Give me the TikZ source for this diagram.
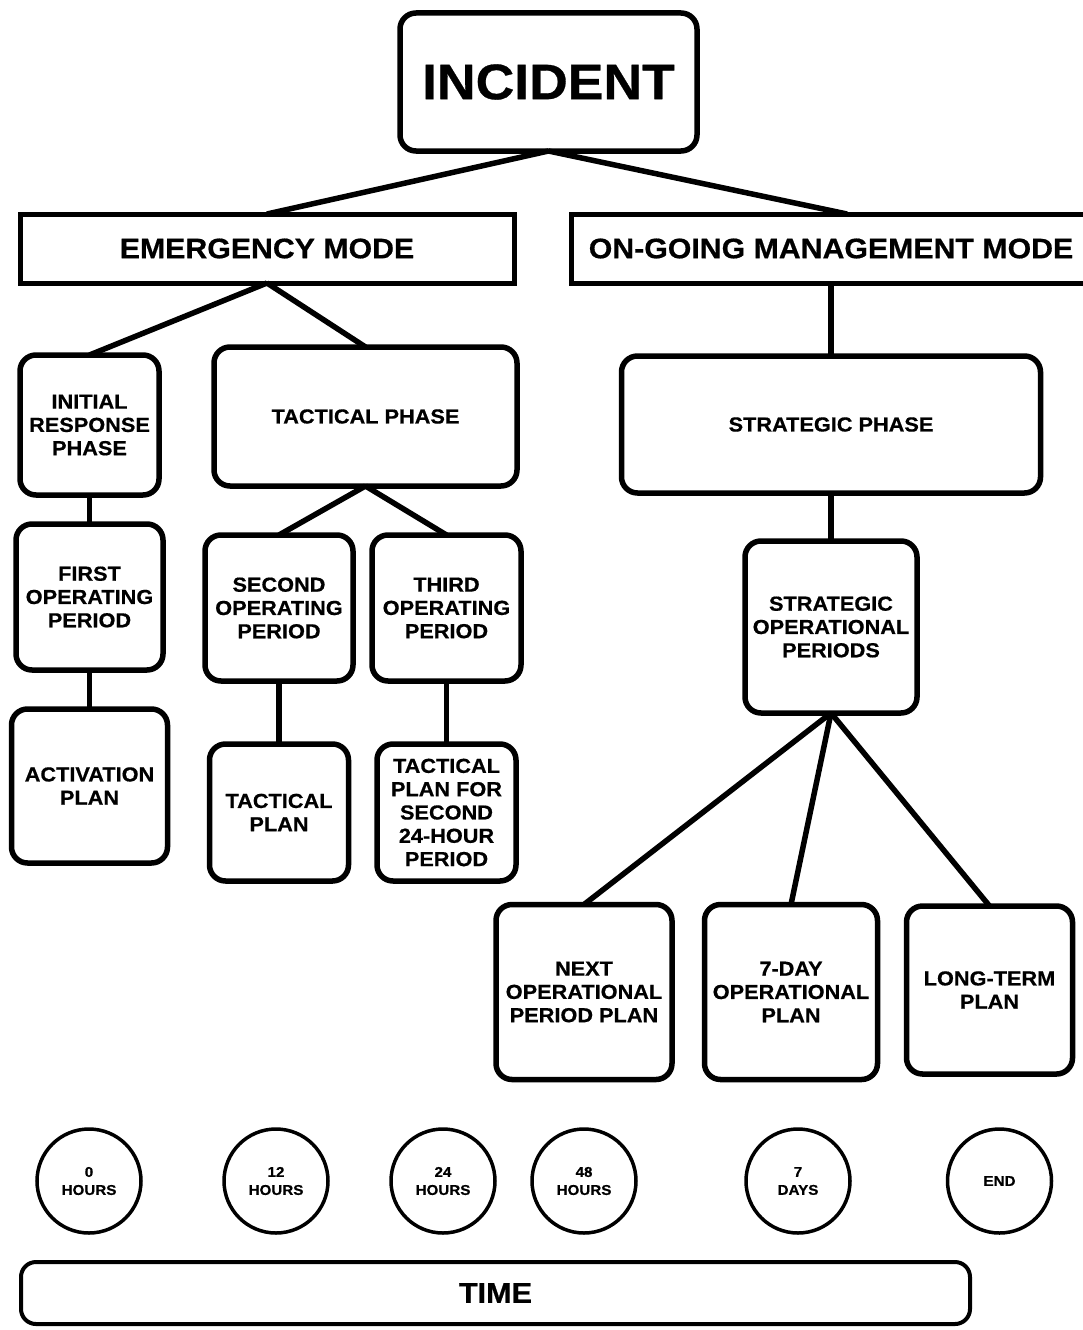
\documentclass[tikz,border=0pt]{standalone}
\usepackage{fontspec}
\setmainfont{Liberation Sans}[FakeStretch=1.07, BoldFeatures={FakeBold=0.6}]
\begin{document}
\begin{tikzpicture}[x=1pt,y=-1pt,
  box/.style={draw, line width=5.5pt, rounded corners=16pt, inner sep=0pt, outer sep=0pt, align=center,
    font=\fontsize{20.3}{23.3}\selectfont\bfseries},
  modebox/.style={draw, line width=5pt, inner sep=0pt, outer sep=0pt,
    font=\fontsize{28.3}{32}\selectfont\bfseries},
  timecircle/.style={draw, circle, line width=3.5pt, minimum size=104pt, inner sep=0pt, outer sep=0pt, align=center,
    font=\fontsize{14.2}{18}\selectfont\bfseries},
  link/.style={line width=5.5pt}]
\useasboundingbox (0,0) rectangle (1083,1330);

% top level
\node[box, minimum width=297pt, minimum height=138pt, font=\fontsize{50}{56}\selectfont\bfseries] (incident) at (548.5,82) {INCIDENT};
\node[modebox, minimum width=494pt, minimum height=69pt] (emerg) at (267,248.5) {EMERGENCY MODE};
\node[modebox, minimum width=520pt, minimum height=69pt] (ongoing) at (831,248.5) {ON-GOING MANAGEMENT MODE};
\coordinate (ongtop) at (847,214);

% emergency branch
\node[box, minimum width=139pt, minimum height=140pt] (initial) at (89.5,425) {INITIAL\\RESPONSE\\PHASE};
\node[box, minimum width=303pt, minimum height=139pt] (tactph) at (365.5,416.5) {TACTICAL PHASE};
\node[box, minimum width=147pt, minimum height=146pt] (first) at (89.5,597) {FIRST\\OPERATING\\PERIOD};
\node[box, minimum width=156pt, minimum height=154pt] (activ) at (89.5,786) {ACTIVATION\\PLAN};
\node[box, minimum width=148pt, minimum height=146pt] (second) at (279,608) {SECOND\\OPERATING\\PERIOD};
\node[box, minimum width=149pt, minimum height=146pt] (third) at (446.5,608) {THIRD\\OPERATING\\PERIOD};
\node[box, minimum width=139pt, minimum height=137pt] (tplan) at (279,812.5) {TACTICAL\\PLAN};
\node[box, minimum width=139pt, minimum height=137pt] (tplantwo) at (446.5,812.5) {TACTICAL\\PLAN FOR\\SECOND\\24-HOUR\\PERIOD};

% on-going branch
\node[box, minimum width=419pt, minimum height=137pt] (stratph) at (831,424.5) {STRATEGIC PHASE};
\node[box, minimum width=172pt, minimum height=172pt] (sop) at (831,627) {STRATEGIC\\OPERATIONAL\\PERIODS};
\node[box, minimum width=176pt, minimum height=175pt] (next) at (584,992) {NEXT\\OPERATIONAL\\PERIOD PLAN};
\node[box, minimum width=173pt, minimum height=175pt] (seven) at (791,992) {7-DAY\\OPERATIONAL\\PLAN};
\node[box, minimum width=166pt, minimum height=168pt] (long) at (989.5,990) {LONG-TERM\\PLAN};

% connectors
\draw[link] (incident.south) -- (emerg.north);
\draw[link] (incident.south) -- (ongtop);
\draw[link] (emerg.south) -- (initial.north);
\draw[link] (emerg.south) -- (tactph.north);
\draw[link] (initial.south) -- (first.north);
\draw[link] (first.south) -- (activ.north);
\draw[link] (tactph.south) -- (second.north);
\draw[link] (tactph.south) -- (third.north);
\draw[link] (second.south) -- (tplan.north);
\draw[link] (third.south) -- (tplantwo.north);
\draw[link] (ongoing.south) -- (stratph.north);
\draw[link] (stratph.south) -- (sop.north);
\draw[link] (sop.south) -- (next.north);
\draw[link] (sop.south) -- (seven.north);
\draw[link] (sop.south) -- (long.north);

% time line
\node[timecircle] (t0) at (89,1181) {0\\HOURS};
\node[timecircle] (t12) at (276,1181) {12\\HOURS};
\node[timecircle] (t24) at (443,1181) {24\\HOURS};
\node[timecircle] (t48) at (584,1181) {48\\HOURS};
\node[timecircle] (t7) at (798,1181) {7\\DAYS};
\node[timecircle] (tend) at (999.5,1181) {END};
\node[draw, line width=4pt, rounded corners=15pt, minimum width=949pt, minimum height=62pt, inner sep=0pt,
  font=\fontsize{28.6}{32}\selectfont\bfseries] (time) at (495.5,1293) {TIME};
\end{tikzpicture}
\end{document}
